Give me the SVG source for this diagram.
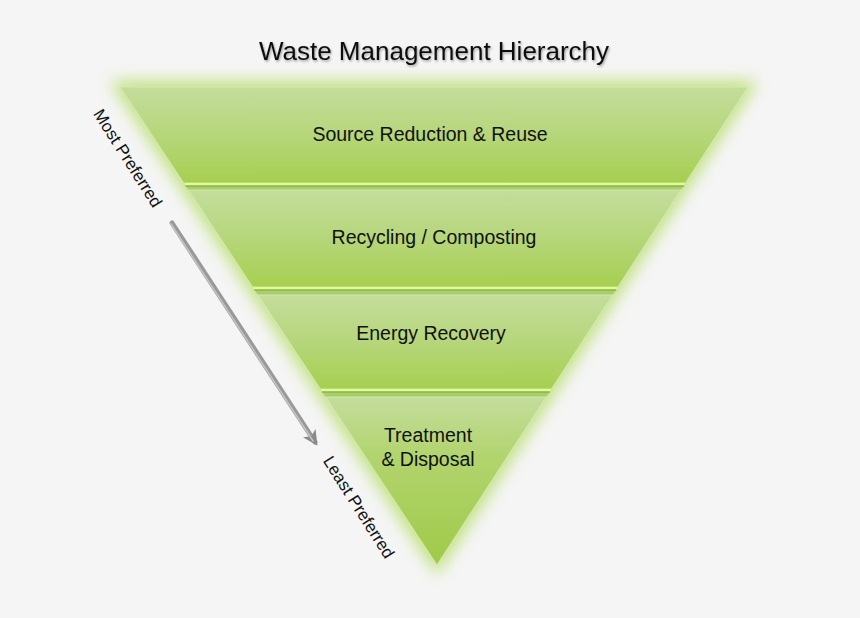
<svg xmlns="http://www.w3.org/2000/svg" width="860" height="618" viewBox="0 0 860 618">
  <defs>
    <style>
      .lbl { font-family: "Liberation Sans", Arial, sans-serif; font-size: 19.5px; fill: #111; text-anchor: middle; }
      .side { font-family: "Liberation Sans", Arial, sans-serif; font-size: 17px; fill: #111; text-anchor: middle; }
      .title { font-family: "Liberation Sans", Arial, sans-serif; font-size: 26px; fill: #111; text-anchor: middle; }
      .band { stroke: #d6ecb4; stroke-width: 1.2; stroke-opacity: 0.8; }
      .hl { stroke: #e2fa98; stroke-width: 2.2; }
      .dk { stroke: #94bc4a; stroke-width: 1.6; }
    </style>
    <linearGradient id="g1" x1="0" y1="0" x2="0" y2="1">
      <stop offset="0" stop-color="#c4dd9c"/>
      <stop offset="0.5" stop-color="#b6d67a"/>
      <stop offset="1" stop-color="#a6cf50"/>
    </linearGradient>
    <linearGradient id="g4" x1="0" y1="0" x2="0" y2="1">
      <stop offset="0" stop-color="#c4dd9c"/>
      <stop offset="0.35" stop-color="#b2d46e"/>
      <stop offset="1" stop-color="#9fca48"/>
    </linearGradient>
    <filter id="glow" x="-20%" y="-20%" width="140%" height="140%">
      <feGaussianBlur stdDeviation="8"/>
    </filter>
    <filter id="ts" x="-5%" y="-30%" width="110%" height="160%">
      <feDropShadow dx="1" dy="1.5" stdDeviation="1" flood-color="#000" flood-opacity="0.35"/>
    </filter>
    <marker id="ah" viewBox="0 0 10 10" refX="7" refY="5" markerWidth="3" markerHeight="3" orient="auto">
      <path d="M0,0 L10,5 L0,10 L2.5,5 z" fill="#8a8a8a"/>
    </marker>
  </defs>

  <rect width="860" height="618" fill="#f5f5f5"/>

  <g id="title">
    <text class="title" x="434" y="60" filter="url(#ts)">Waste Management Hierarchy</text>
  </g>

  <g id="glow-layer">
    <polygon points="110,81 758,81 437,575" fill="#b4dc62" opacity="0.8" filter="url(#glow)"/>
    <polygon points="120,87 748,87 437,565" fill="#a9cc6c"/>
  </g>

  <g id="band1">
    <polygon class="band" points="120,87 748,87 685.5,183 183.7,183" fill="url(#g1)"/>
    <line class="hl" x1="184.5" y1="184" x2="684.8" y2="184"/>
    <line class="dk" x1="185.5" y1="186.3" x2="684" y2="186.3"/>
    <text class="lbl" x="430" y="141">Source Reduction &amp; Reuse</text>
  </g>

  <g id="band2">
    <polygon class="band" points="188.3,190 681,190 617.9,287 252.6,287" fill="url(#g1)"/>
    <line class="hl" x1="253.3" y1="288" x2="617.2" y2="288"/>
    <line class="dk" x1="254.3" y1="290.3" x2="616.2" y2="290.3"/>
    <text class="lbl" x="434" y="244">Recycling / Composting</text>
  </g>

  <g id="band3">
    <polygon class="band" points="257.9,295 612.7,295 551.5,389 320.3,389" fill="url(#g1)"/>
    <line class="hl" x1="321" y1="390" x2="550.8" y2="390"/>
    <line class="dk" x1="322" y1="392.3" x2="549.8" y2="392.3"/>
    <text class="lbl" x="431" y="340">Energy Recovery</text>
  </g>

  <g id="band4">
    <polygon class="band" points="325.6,397 546.3,397 437,565" fill="url(#g4)"/>
    <text class="lbl" x="428" y="442">Treatment</text>
    <text class="lbl" x="428" y="466">&amp; Disposal</text>
  </g>

  <g id="most-preferred">
    <text class="side" transform="translate(128,158) rotate(57.5)" y="6">Most Preferred</text>
  </g>

  <g id="least-preferred">
    <text class="side" transform="translate(359,507) rotate(57.5)" y="6">Least Preferred</text>
  </g>

  <g id="connectors">
    <line x1="172" y1="223" x2="315" y2="442" stroke="#999" stroke-width="5" stroke-linecap="round" marker-end="url(#ah)"/>
    <line x1="171" y1="224" x2="313" y2="441" stroke="#c4c4c4" stroke-width="1.5" stroke-linecap="round"/>
  </g>
</svg>
